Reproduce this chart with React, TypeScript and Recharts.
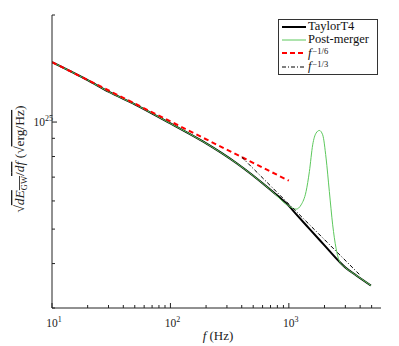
import React from 'react';
import { LineChart, Line, XAxis, YAxis, Legend } from 'recharts';

// frequencies (Hz) and sqrt(dE/df) values
const taylorFreq = [10, 20, 30, 50, 100, 188, 360, 687, 1000, 1152, 1500, 2000, 2667, 3000, 3690, 4934];
const taylorVal = [1.474e25, 1.312e25, 1.217e25, 1.122e25, 0.991e25, 0.882e25, 0.767e25, 0.648e25, 0.581e25, 0.551e25, 0.5e25, 0.45e25, 0.405e25, 0.39e25, 0.371e25, 0.347e25];

const postFreq = [10, 20, 30, 50, 100, 188, 360, 687, 1000, 1152, 1269, 1398, 1491, 1590, 1698, 1810, 1930, 2062, 2198, 2345, 2503, 2667, 3000, 3690, 4934];
const postVal = [1.474e25, 1.312e25, 1.217e25, 1.122e25, 0.991e25, 0.882e25, 0.767e25, 0.648e25, 0.581e25, 0.569e25, 0.585e25, 0.638e25, 0.726e25, 0.863e25, 0.931e25, 0.947e25, 0.921e25, 0.792e25, 0.638e25, 0.514e25, 0.442e25, 0.407e25, 0.39e25, 0.371e25, 0.347e25];

const sixthFreq = [10, 1000];
const sixthVal = [1.474e25, 0.684e25];

const thirdFreq = [400, 4000];
const thirdVal = [0.797e25, 0.371e25];

const xTicks = [10, 20, 30, 40, 50, 60, 70, 80, 90, 100, 200, 300, 400, 500, 600, 700, 800, 900, 1000, 2000, 3000, 4000, 5000];
const xMajor = [10, 100, 1000];
const yTicks = [3e24, 4e24, 5e24, 6e24, 7e24, 8e24, 9e24, 1e25, 2e25];
const yMajor = [1e25];

const SERIF = '"Liberation Serif", "DejaVu Serif", serif';
const INK = '#222';

const toRows = (fs: number[], vs: number[]) => fs.map((f, i) => ({ f, v: vs[i] }));
const taylorData = toRows(taylorFreq, taylorVal);
const postData = toRows(postFreq, postVal);
const sixthData = toRows(sixthFreq, sixthVal);
const thirdData = toRows(thirdFreq, thirdVal);

const isMajor = (list: number[], v: number) => list.some((m) => Math.abs(m - v) / m < 1e-6);

const Pow = ({ x, y, exp, anchor }: any) => (
  <text x={x} y={y} textAnchor={anchor} fontFamily={SERIF} fontSize={11.5} fill={INK}>
    10<tspan dy={-5} fontSize={8}>{exp}</tspan>
  </text>
);

const BottomTick = (props: any) => {
  const { x, y, payload } = props;
  const major = isMajor(xMajor, payload.value);
  return (
    <g>
      <line x1={x} x2={x} y1={y} y2={y - (major ? 5 : 3)} stroke={INK} />
      {major && <Pow x={x + 2} y={y + 19} exp={Math.round(Math.log10(payload.value))} anchor="middle" />}
    </g>
  );
};

const TopTick = (props: any) => {
  const { x, y, payload } = props;
  const major = isMajor(xMajor, payload.value);
  return <line x1={x} x2={x} y1={y} y2={y + (major ? 5 : 3)} stroke={INK} />;
};

const LeftTick = (props: any) => {
  const { x, y, payload } = props;
  const major = isMajor(yMajor, payload.value);
  return (
    <g>
      <line x1={x} x2={x + (major ? 5 : 3)} y1={y} y2={y} stroke={INK} />
      {major && <Pow x={x + 1} y={y + 4} exp={Math.round(Math.log10(payload.value))} anchor="end" />}
    </g>
  );
};

const RightTick = (props: any) => {
  const { x, y, payload } = props;
  const major = isMajor(yMajor, payload.value);
  return <line x1={x} x2={x - (major ? 5 : 3)} y1={y} y2={y} stroke={INK} />;
};

const YTitle = () => (
  <text
    x={24}
    y={159}
    transform="rotate(-90, 24, 159)"
    textAnchor="middle"
    fontFamily={SERIF}
    fontSize={13.5}
    fill={INK}
  >
    √<tspan textDecoration="overline">
      <tspan fontStyle="italic">dE</tspan>
      <tspan dy={3} fontSize={8.5}>GW</tspan>
      <tspan dy={-3}>/</tspan>
      <tspan fontStyle="italic">df</tspan>
    </tspan>
    <tspan> (√</tspan>
    <tspan textDecoration="overline">erg/Hz</tspan>
    <tspan>)</tspan>
  </text>
);

const XTitle = () => (
  <text x={218} y={340} textAnchor="middle" fontFamily={SERIF} fontSize={13} fill={INK}>
    <tspan fontStyle="italic">f</tspan> (Hz)
  </text>
);

const Exp = ({ children }: any) => (
  <span style={{ position: 'relative', top: -3, fontSize: 8.5, marginLeft: 1, lineHeight: '9px' }}>{children}</span>
);

const legendItems = [
  { key: 'taylor', stroke: '#000', width: 2, dash: undefined, label: <span>TaylorT4</span> },
  { key: 'post', stroke: '#5cc85c', width: 1, dash: undefined, label: <span>Post-merger</span> },
  {
    key: 'sixth',
    stroke: '#ff0000',
    width: 2,
    dash: '5 3',
    label: (
      <span>
        <i>f</i>
        <Exp>−1/6</Exp>
      </span>
    ),
  },
  {
    key: 'third',
    stroke: '#000',
    width: 1,
    dash: '4 2 1 2',
    label: (
      <span>
        <i>f</i>
        <Exp>−1/3</Exp>
      </span>
    ),
  },
];

const renderLegend = () => (
  <div
    style={{
      border: '1px solid #333',
      background: '#fff',
      width: 100,
      height: 56,
      boxSizing: 'border-box',
      fontFamily: SERIF,
      fontSize: 12.5,
      color: '#111',
      lineHeight: '13px',
      overflow: 'hidden',
    }}
  >
    {legendItems.map((it) => (
      <div key={it.key} style={{ display: 'flex', alignItems: 'center', height: 13.3 }}>
        <svg width={28} height={10} style={{ flex: 'none' }}>
          <line x1={3} x2={27} y1={5} y2={5} stroke={it.stroke} strokeWidth={it.width} strokeDasharray={it.dash} />
        </svg>
        <span style={{ marginLeft: 1, whiteSpace: 'nowrap' }}>{it.label}</span>
      </div>
    ))}
  </div>
);

export default function App() {
  return (
    <div style={{ position: 'absolute', left: 0, top: 0, width: 399, height: 346, background: '#fff' }}>
      <LineChart width={399} height={346} margin={{ top: 15, right: 18, bottom: 0, left: 0 }}>
        <XAxis
          dataKey="f"
          type="number"
          scale="log"
          domain={[10, 6000]}
          allowDataOverflow
          ticks={xTicks}
          interval={0}
          tickSize={0}
          tickMargin={0}
          tick={<BottomTick />}
          axisLine={{ stroke: INK }}
          height={38}
          label={{ content: () => <XTitle /> }}
        />
        <XAxis
          xAxisId="top"
          orientation="top"
          dataKey="f"
          type="number"
          scale="log"
          domain={[10, 6000]}
          allowDataOverflow
          ticks={xTicks}
          interval={0}
          tickSize={0}
          tickMargin={0}
          tick={<TopTick />}
          axisLine={{ stroke: INK }}
          height={0}
        />
        <YAxis
          type="number"
          scale="log"
          domain={[3e24, 2e25]}
          allowDataOverflow
          ticks={yTicks}
          interval={0}
          tickSize={0}
          tickMargin={0}
          tick={<LeftTick />}
          axisLine={{ stroke: INK }}
          width={52}
          label={{ content: () => <YTitle /> }}
        />
        <YAxis
          yAxisId="right"
          orientation="right"
          type="number"
          scale="log"
          domain={[3e24, 2e25]}
          allowDataOverflow
          ticks={yTicks}
          interval={0}
          tickSize={0}
          tickMargin={0}
          tick={<RightTick />}
          axisLine={{ stroke: INK }}
          width={0}
        />
        <Legend
          layout="vertical"
          align="center"
          verticalAlign="middle"
          content={renderLegend}
          wrapperStyle={{ left: 278, top: 19, width: 100, height: 56 }}
        />
        <Line data={taylorData} dataKey="v" type="monotone" stroke="#000" strokeWidth={2} dot={false} isAnimationActive={false} />
        <Line data={postData} dataKey="v" type="monotone" stroke="#5cc85c" strokeWidth={1} dot={false} isAnimationActive={false} />
        <Line data={sixthData} dataKey="v" type="linear" stroke="#ff0000" strokeWidth={2} strokeDasharray="5 3.5" dot={false} isAnimationActive={false} />
        <Line data={thirdData} dataKey="v" type="linear" stroke="#000" strokeWidth={1} strokeDasharray="4 2 1 2" dot={false} isAnimationActive={false} />
      </LineChart>
    </div>
  );
}
